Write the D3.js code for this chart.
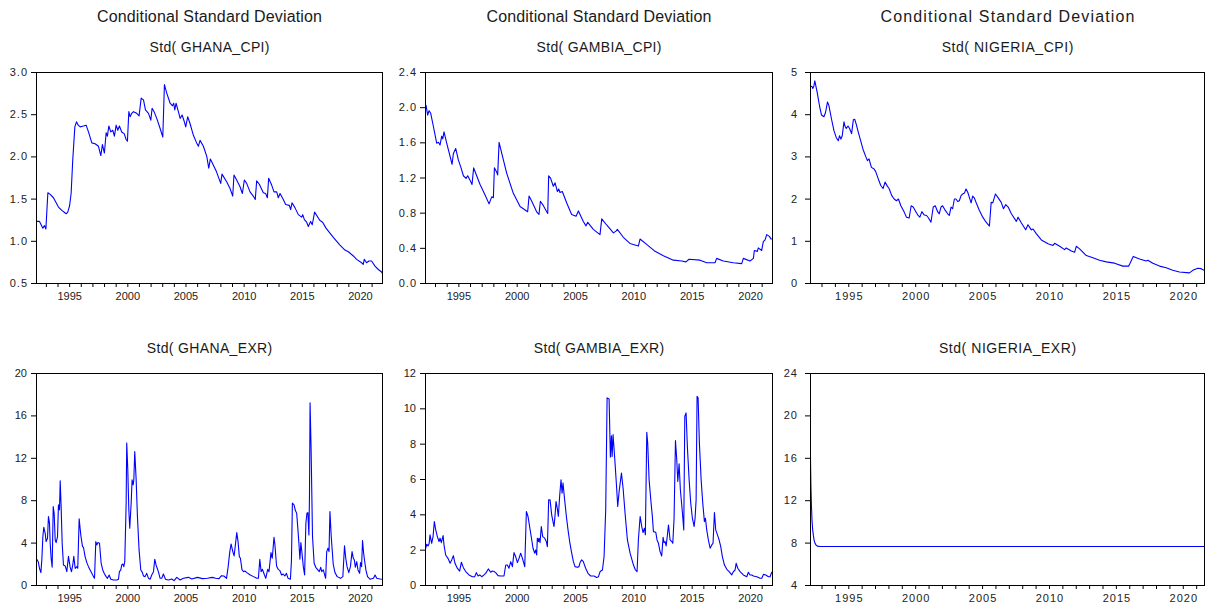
<!DOCTYPE html>
<html>
<head>
<meta charset="utf-8">
<script src="https://cdn.jsdelivr.net/npm/d3@7"></script>
<style>
  html, body { margin: 0; padding: 0; background: #fff; }
  svg { display: block; }
  .tick text { font-family: "Liberation Sans", Arial, sans-serif; font-size: 11px; fill: #222; }
  .tick line { stroke: #000; }
</style>
</head>
<body>
<svg id="chart" width="1206" height="603"></svg>
<script>
// ---------- DATA ----------
const mainTitle = "Conditional Standard Deviation";
const seriesNames = ["Std( GHANA_CPI)", "Std( GAMBIA_CPI)", "Std( NIGERIA_CPI)",
                     "Std( GHANA_EXR)", "Std( GAMBIA_EXR)", "Std( NIGERIA_EXR)"];
const yearTicks = [1993,1994,1995,1996,1997,1998,1999,2000,2001,2002,2003,2004,2005,2006,2007,
                   2008,2009,2010,2011,2012,2013,2014,2015,2016,2017,2018,2019,2020,2021];
const yearLabels = [1995, 2000, 2005, 2010, 2015, 2020];

const ticksGhanaCpi = [0.5, 1.0, 1.5, 2.0, 2.5, 3.0];
const ticksGambiaCpi = [0.0, 0.4, 0.8, 1.2, 1.6, 2.0, 2.4];
const ticksNigeriaCpi = [0, 1, 2, 3, 4, 5];
const ticksGhanaExr = [0, 4, 8, 12, 16, 20];
const ticksGambiaExr = [0, 2, 4, 6, 8, 10, 12];
const ticksNigeriaExr = [4, 8, 12, 16, 20, 24];

const ghanaCpi = [
[1992.22,1.23],[1992.45,1.23],[1992.74,1.15],[1992.88,1.18],[1993.0,1.14],[1993.17,1.57],[1993.37,1.55],[1993.65,1.51],
[1994.08,1.40],[1994.37,1.36],[1994.74,1.32],[1994.88,1.34],[1995.03,1.41],[1995.17,1.56],[1995.31,1.96],[1995.49,2.35],
[1995.63,2.41],[1995.78,2.37],[1995.95,2.35],[1996.23,2.36],[1996.46,2.37],[1996.66,2.29],[1996.95,2.16],[1997.23,2.15],
[1997.52,2.12],[1997.72,2.01],[1997.86,2.14],[1998.03,2.04],[1998.18,2.28],[1998.29,2.24],[1998.41,2.36],[1998.58,2.29],
[1998.75,2.31],[1998.89,2.24],[1999.04,2.37],[1999.18,2.31],[1999.32,2.36],[1999.52,2.29],[1999.73,2.27],[1999.9,2.20],
[2000.01,2.18],[2000.13,2.53],[2000.24,2.47],[2000.38,2.51],[2000.53,2.53],[2000.81,2.51],[2001.01,2.48],[2001.19,2.69],
[2001.39,2.67],[2001.56,2.55],[2001.82,2.51],[2002.02,2.43],[2002.13,2.57],[2002.3,2.53],[2002.53,2.45],[2002.82,2.33],
[2003.05,2.23],[2003.19,2.85],[2003.39,2.75],[2003.68,2.63],[2003.88,2.60],[2003.99,2.63],[2004.08,2.55],[2004.19,2.63],
[2004.39,2.53],[2004.54,2.45],[2004.71,2.49],[2004.88,2.42],[2005.02,2.35],[2005.19,2.47],[2005.39,2.39],[2005.68,2.25],
[2005.96,2.16],[2006.11,2.12],[2006.25,2.19],[2006.54,2.12],[2006.83,2.00],[2007.0,1.86],[2007.14,1.97],[2007.66,1.82],
[2008.03,1.68],[2008.14,1.79],[2008.54,1.70],[2008.83,1.62],[2009.06,1.53],[2009.17,1.78],[2009.4,1.72],[2009.69,1.64],
[2009.89,1.56],[2010.06,1.72],[2010.26,1.68],[2010.55,1.58],[2010.83,1.53],[2011.0,1.49],[2011.12,1.71],[2011.35,1.67],
[2011.69,1.57],[2011.89,1.56],[2012.04,1.51],[2012.15,1.74],[2012.41,1.66],[2012.61,1.58],[2012.84,1.58],[2012.98,1.51],
[2013.13,1.56],[2013.41,1.49],[2013.61,1.43],[2013.93,1.42],[2014.04,1.37],[2014.16,1.45],[2014.42,1.39],[2014.70,1.31],
[2014.99,1.28],[2015.08,1.31],[2015.22,1.25],[2015.42,1.22],[2015.56,1.17],[2015.76,1.23],[2015.9,1.19],[2016.1,1.34],
[2016.56,1.24],[2016.79,1.22],[2017.08,1.15],[2017.42,1.09],[2017.71,1.04],[2018.28,0.95],[2018.71,0.89],[2019.0,0.87],
[2019.43,0.82],[2019.71,0.78],[2020.14,0.74],[2020.28,0.72],[2020.37,0.78],[2020.57,0.74],[2020.77,0.76],[2021.0,0.76],
[2021.29,0.70],[2021.58,0.66],[2021.86,0.63],[2021.97,0.60]];

const gambiaCpi = [
[1992.14,2.01],[1992.23,2.02],[1992.37,1.91],[1992.49,1.96],[1992.63,1.93],[1992.86,1.78],[1993.14,1.59],[1993.29,1.60],
[1993.43,1.57],[1993.57,1.67],[1993.66,1.64],[1993.77,1.72],[1994.0,1.59],[1994.29,1.44],[1994.46,1.35],[1994.57,1.47],
[1994.77,1.53],[1995.0,1.40],[1995.23,1.31],[1995.43,1.22],[1995.66,1.19],[1995.8,1.22],[1996.0,1.17],[1996.17,1.12],
[1996.31,1.31],[1996.51,1.24],[1996.86,1.12],[1997.29,1.00],[1997.63,0.90],[1997.86,0.98],[1998.0,0.97],[1998.09,1.31],
[1998.29,1.26],[1998.37,1.23],[1998.49,1.60],[1998.71,1.48],[1999.14,1.25],[1999.71,1.02],[2000.29,0.87],[2000.94,0.81],
[2001.06,0.99],[2001.29,0.93],[2001.71,0.81],[2001.91,0.78],[2002.03,0.93],[2002.29,0.88],[2002.57,0.81],[2002.66,0.79],
[2002.74,1.22],[2002.91,1.19],[2003.14,1.10],[2003.29,1.14],[2003.49,1.04],[2003.6,1.07],[2003.71,1.03],[2003.91,1.04],
[2004.29,0.91],[2004.71,0.78],[2005.09,0.76],[2005.29,0.82],[2005.71,0.70],[2005.94,0.65],[2006.09,0.69],[2006.57,0.61],
[2007.14,0.55],[2007.29,0.73],[2007.71,0.66],[2008.29,0.57],[2008.51,0.59],[2008.63,0.61],[2009.14,0.52],[2009.71,0.45],
[2010.43,0.42],[2010.57,0.50],[2011.14,0.44],[2011.86,0.36],[2012.57,0.31],[2013.43,0.26],[2014.14,0.25],[2014.51,0.24],
[2014.77,0.27],[2015.71,0.26],[2016.29,0.23],[2017.0,0.23],[2017.14,0.28],[2017.71,0.25],[2018.57,0.23],[2019.29,0.22],
[2019.43,0.28],[2020.0,0.25],[2020.29,0.28],[2020.37,0.37],[2020.63,0.36],[2020.71,0.40],[2021.0,0.37],[2021.14,0.47],
[2021.29,0.49],[2021.43,0.55],[2021.66,0.53],[2021.8,0.50],[2021.97,0.50]];

const nigeriaCpi = [
[1992.16,4.67],[1992.3,4.65],[1992.35,4.61],[1992.43,4.67],[1992.5,4.79],[1992.68,4.51],[1992.85,4.20],[1993.0,3.98],
[1993.18,3.94],[1993.3,4.04],[1993.45,4.29],[1993.55,4.21],[1993.75,3.88],[1993.93,3.61],[1994.1,3.45],[1994.25,3.37],
[1994.35,3.49],[1994.45,3.41],[1994.55,3.49],[1994.68,3.82],[1994.75,3.72],[1994.85,3.66],[1994.98,3.72],[1995.1,3.66],
[1995.25,3.54],[1995.38,3.87],[1995.48,3.88],[1995.6,3.76],[1995.75,3.57],[1995.93,3.37],[1996.1,3.17],[1996.3,3.00],
[1996.43,2.90],[1996.55,2.94],[1996.73,2.74],[1996.93,2.70],[1997.05,2.64],[1997.25,2.46],[1997.43,2.31],[1997.6,2.24],
[1997.75,2.39],[1997.93,2.29],[1998.05,2.24],[1998.25,2.07],[1998.43,1.99],[1998.6,1.95],[1998.75,1.99],[1998.93,1.83],
[1999.18,1.68],[1999.35,1.56],[1999.55,1.54],[1999.7,1.83],[1999.85,1.80],[2000.05,1.69],[2000.2,1.61],[2000.35,1.56],
[2000.5,1.69],[2000.68,1.61],[2000.85,1.60],[2001.0,1.54],[2001.18,1.44],[2001.35,1.80],[2001.5,1.83],[2001.68,1.69],
[2001.8,1.64],[2001.93,1.80],[2002.05,1.83],[2002.25,1.72],[2002.43,1.64],[2002.55,1.60],[2002.68,1.80],[2002.8,1.76],
[2002.93,1.99],[2003.05,1.99],[2003.18,1.93],[2003.3,1.95],[2003.43,2.07],[2003.55,2.11],[2003.68,2.13],[2003.8,2.23],
[2003.93,2.15],[2004.05,2.03],[2004.18,1.90],[2004.3,2.06],[2004.43,2.01],[2004.6,1.87],[2004.8,1.72],[2005.05,1.56],
[2005.3,1.44],[2005.55,1.35],[2005.68,1.91],[2005.8,1.90],[2006.0,2.11],[2006.18,2.03],[2006.43,1.91],[2006.6,1.76],
[2006.77,1.86],[2006.95,1.80],[2007.19,1.64],[2007.56,1.46],[2007.69,1.56],[2007.94,1.42],[2008.26,1.26],[2008.43,1.38],
[2008.68,1.26],[2008.81,1.28],[2009.05,1.17],[2009.43,1.02],[2009.93,0.93],[2010.3,0.89],[2010.42,0.94],[2010.8,0.87],
[2011.17,0.79],[2011.29,0.83],[2011.67,0.76],[2011.92,0.73],[2012.04,0.87],[2012.29,0.81],[2012.79,0.65],[2013.28,0.60],
[2013.78,0.54],[2014.28,0.50],[2014.9,0.47],[2015.52,0.40],[2015.95,0.40],[2016.05,0.46],[2016.3,0.63],[2016.77,0.57],
[2017.26,0.52],[2017.39,0.54],[2017.76,0.47],[2018.26,0.40],[2018.76,0.36],[2019.25,0.30],[2019.75,0.26],[2020.5,0.24],
[2020.75,0.30],[2021.12,0.35],[2021.37,0.34],[2021.66,0.29]];

const ghanaExr = [
[1992.22,2.43],[1992.34,2.20],[1992.45,1.57],[1992.57,1.17],[1992.65,2.36],[1992.74,4.57],[1992.82,5.45],[1992.94,4.88],
[1993.02,4.09],[1993.14,4.41],[1993.22,6.46],[1993.31,5.83],[1993.37,3.94],[1993.45,2.52],[1993.54,1.67],[1993.63,7.40],
[1993.71,6.77],[1993.80,4.25],[1993.88,4.00],[1994.0,4.57],[1994.08,7.56],[1994.17,7.09],[1994.23,9.83],[1994.31,7.40],
[1994.40,3.94],[1994.51,1.89],[1994.66,1.80],[1994.8,1.26],[1994.94,2.70],[1995.09,1.67],[1995.2,1.26],[1995.31,1.89],
[1995.4,2.70],[1995.52,1.57],[1995.66,1.73],[1995.74,1.57],[1995.86,6.24],[1996.0,4.72],[1996.15,3.62],[1996.23,3.56],
[1996.37,2.68],[1996.52,2.11],[1996.66,1.73],[1996.8,1.42],[1996.95,1.10],[1997.09,0.79],[1997.18,0.63],[1997.29,4.09],
[1997.38,3.78],[1997.46,4.00],[1997.61,3.94],[1997.75,2.05],[1997.89,1.42],[1998.04,1.04],[1998.18,0.79],[1998.29,0.63],
[1998.44,0.94],[1998.58,0.54],[1998.81,0.47],[1999.1,0.47],[1999.24,0.54],[1999.32,1.26],[1999.44,1.42],[1999.52,1.89],
[1999.61,1.98],[1999.7,1.73],[1999.78,2.20],[1999.9,7.72],[1999.95,13.39],[2000.04,10.87],[2000.13,7.09],[2000.21,5.35],
[2000.33,7.72],[2000.41,9.92],[2000.5,9.45],[2000.56,9.92],[2000.64,12.6],[2000.76,9.92],[2000.87,6.46],[2001.01,3.31],
[2001.16,1.42],[2001.3,1.17],[2001.39,0.85],[2001.53,0.79],[2001.67,1.10],[2001.82,0.63],[2001.96,0.54],[2002.1,0.94],
[2002.25,1.26],[2002.36,2.43],[2002.47,1.89],[2002.67,1.26],[2002.82,0.63],[2002.96,0.63],[2003.1,1.04],[2003.28,0.54],
[2003.53,0.47],[2003.82,0.57],[2004.02,0.41],[2004.25,0.72],[2004.54,0.47],[2004.82,0.63],[2005.25,0.72],[2005.54,0.57],
[2006.03,0.72],[2006.46,0.60],[2006.88,0.63],[2007.31,0.72],[2007.59,0.63],[2007.88,0.60],[2008.1,0.88],[2008.3,0.85],
[2008.53,0.63],[2008.67,1.73],[2008.81,3.15],[2008.92,3.87],[2009.07,3.15],[2009.18,2.74],[2009.29,3.78],[2009.41,4.94],
[2009.52,4.09],[2009.63,2.68],[2009.72,2.52],[2009.86,1.42],[2010.0,1.26],[2010.11,1.32],[2010.28,1.17],[2010.57,0.94],
[2010.85,0.79],[2011.13,0.63],[2011.27,0.63],[2011.39,2.43],[2011.5,1.26],[2011.61,1.48],[2011.76,1.04],[2011.9,0.63],
[2012.07,1.48],[2012.18,1.26],[2012.35,3.06],[2012.46,2.52],[2012.61,4.50],[2012.69,3.78],[2012.83,1.80],[2012.97,1.48],
[2013.12,1.35],[2013.26,0.94],[2013.4,1.04],[2013.54,0.85],[2013.68,1.10],[2013.82,0.63],[2014.02,0.54],[2014.11,2.30],
[2014.19,7.72],[2014.33,7.56],[2014.45,7.02],[2014.56,6.77],[2014.67,5.20],[2014.76,3.78],[2014.84,2.43],[2014.92,4.00],
[2015.01,3.06],[2015.13,1.73],[2015.24,0.94],[2015.35,5.83],[2015.44,6.77],[2015.52,6.83],[2015.61,4.72],[2015.66,8.35],
[2015.71,17.2],[2015.8,12.76],[2015.92,4.57],[2016.06,2.05],[2016.2,1.67],[2016.34,1.48],[2016.5,1.26],[2016.63,1.67],
[2016.71,1.26],[2016.85,1.42],[2016.97,0.94],[2017.05,0.63],[2017.14,3.15],[2017.25,3.46],[2017.34,3.15],[2017.42,6.93],
[2017.53,4.57],[2017.7,1.98],[2017.85,1.17],[2018.04,0.79],[2018.33,0.63],[2018.53,0.79],[2018.67,3.69],[2018.78,2.52],
[2018.89,1.73],[2019.04,1.17],[2019.18,1.73],[2019.32,3.15],[2019.43,2.52],[2019.52,2.36],[2019.6,1.67],[2019.72,2.20],
[2019.83,1.42],[2019.97,1.10],[2020.05,2.11],[2020.14,1.73],[2020.22,4.19],[2020.31,3.06],[2020.39,2.36],[2020.51,1.42],
[2020.65,0.79],[2020.88,0.54],[2021.16,0.63],[2021.3,0.94],[2021.44,0.63],[2021.73,0.57],[2021.98,0.54]];

const gambiaExr = [
[1992.2,2.08],[1992.29,2.31],[1992.4,2.21],[1992.49,2.33],[1992.57,2.84],[1992.71,2.36],[1992.83,2.74],[1992.94,3.59],
[1993.06,3.12],[1993.2,2.74],[1993.34,2.46],[1993.43,2.65],[1993.54,2.40],[1993.69,2.80],[1993.77,2.27],[1993.91,1.70],
[1994.11,1.51],[1994.29,1.23],[1994.43,1.42],[1994.57,1.66],[1994.71,1.23],[1994.91,0.95],[1995.11,0.79],[1995.26,1.29],
[1995.43,0.98],[1995.63,0.76],[1995.91,0.57],[1996.2,0.47],[1996.4,0.47],[1996.54,0.70],[1996.69,0.51],[1996.83,0.57],
[1997.0,0.47],[1997.2,0.57],[1997.34,0.66],[1997.57,0.91],[1997.77,0.72],[1997.91,0.79],[1998.06,0.76],[1998.2,0.70],
[1998.4,0.53],[1998.63,0.51],[1998.91,0.51],[1999.06,1.13],[1999.2,1.13],[1999.34,0.95],[1999.49,1.32],[1999.63,1.04],
[1999.77,1.83],[1999.91,1.61],[2000.06,1.27],[2000.2,1.51],[2000.34,1.80],[2000.49,1.51],[2000.69,1.04],[2000.83,4.16],
[2000.97,3.88],[2001.2,2.93],[2001.4,2.08],[2001.54,1.80],[2001.63,1.98],[2001.71,1.70],[2001.77,2.65],[2001.86,2.46],
[2001.91,2.65],[2002.0,2.40],[2002.11,3.31],[2002.23,2.74],[2002.4,2.65],[2002.54,2.46],[2002.63,2.17],[2002.74,4.82],
[2002.86,4.82],[2003.0,3.97],[2003.11,3.59],[2003.2,3.31],[2003.29,3.97],[2003.37,4.73],[2003.49,4.29],[2003.57,3.88],
[2003.69,5.10],[2003.8,5.95],[2003.89,5.20],[2003.97,5.77],[2004.11,4.82],[2004.26,3.88],[2004.4,3.12],[2004.54,2.46],
[2004.69,1.89],[2004.86,1.32],[2005.0,1.04],[2005.2,1.00],[2005.34,1.04],[2005.43,1.27],[2005.57,1.42],[2005.71,1.32],
[2005.91,0.95],[2006.11,0.66],[2006.34,0.51],[2006.63,0.51],[2006.85,0.43],[2007.01,0.47],[2007.15,0.76],[2007.35,0.85],
[2007.49,1.61],[2007.63,4.25],[2007.75,10.59],[2007.92,10.53],[2008.03,7.24],[2008.12,8.45],[2008.18,7.28],[2008.26,8.51],
[2008.43,6.90],[2008.55,5.67],[2008.66,4.44],[2008.78,5.29],[2008.98,6.33],[2009.12,5.48],[2009.29,4.06],[2009.49,2.55],
[2009.72,1.80],[2010.01,1.13],[2010.15,0.89],[2010.32,0.76],[2010.43,2.55],[2010.58,3.88],[2010.72,3.31],[2010.83,2.97],
[2010.95,3.21],[2011.03,2.84],[2011.15,8.64],[2011.23,8.03],[2011.35,5.95],[2011.52,4.63],[2011.63,3.88],[2011.72,3.02],
[2011.92,2.99],[2012.03,2.55],[2012.15,2.36],[2012.29,1.89],[2012.43,1.64],[2012.55,2.70],[2012.63,2.40],[2012.72,2.46],
[2012.81,2.21],[2012.92,2.84],[2013.01,3.40],[2013.15,2.55],[2013.29,2.46],[2013.38,2.36],[2013.49,3.78],[2013.61,8.17],
[2013.72,7.09],[2013.81,5.86],[2013.92,6.86],[2014.03,5.39],[2014.21,4.06],[2014.32,3.12],[2014.41,9.55],[2014.52,9.74],
[2014.63,7.84],[2014.78,5.95],[2014.92,4.63],[2015.06,3.78],[2015.21,3.31],[2015.29,3.78],[2015.38,4.82],[2015.46,10.68],
[2015.55,10.59],[2015.66,8.03],[2015.81,5.95],[2015.95,4.63],[2016.09,3.59],[2016.18,3.78],[2016.29,3.12],[2016.43,2.55],
[2016.58,2.08],[2016.72,2.27],[2016.83,2.36],[2016.95,4.10],[2017.06,3.12],[2017.21,2.84],[2017.35,2.55],[2017.49,2.17],
[2017.63,1.61],[2017.81,1.13],[2018.01,0.89],[2018.21,0.76],[2018.43,0.57],[2018.58,0.76],[2018.72,0.85],[2018.81,1.23],
[2018.95,0.95],[2019.15,0.76],[2019.43,0.57],[2019.72,0.47],[2019.86,0.72],[2020.0,0.57],[2020.15,0.57],[2020.29,0.51],
[2020.58,0.47],[2020.86,0.38],[2021.01,0.38],[2021.15,0.60],[2021.35,0.57],[2021.58,0.47],[2021.72,0.47],[2021.86,0.72],
[2021.97,0.70]];

const nigeriaExr = [
[1992.14,20.1],[1992.18,15.6],[1992.21,13.3],[1992.25,11.4],[1992.29,10.1],[1992.34,9.2],[1992.39,8.7],[1992.45,8.2],
[1992.51,7.95],[1992.6,7.75],[1992.69,7.67],[1992.89,7.63],[2021.66,7.63]];

// ---------- LAYOUT ----------
const layout = [
  { data: ghanaCpi,   name: 0, ticks: ticksGhanaCpi,   fmt: ".1f", x0: 36,  x1: 383,  y0: 72,  y1: 283, xd: [1992.15, 2021.98], pad: 3, ls: 1,   xls: 0, tls: 0.15, sls: 0.35, title: true },
  { data: gambiaCpi,  name: 1, ticks: ticksGambiaCpi,  fmt: ".1f", x0: 425, x1: 773,  y0: 72,  y1: 283, xd: [1992.14, 2021.97], pad: 3, ls: 1,   xls: 0, tls: 0.15, sls: 0.35, title: true },
  { data: nigeriaCpi, name: 2, ticks: ticksNigeriaCpi, fmt: "d",   x0: 810, x1: 1205, y0: 72,  y1: 283, xd: [1992.14, 2021.66], pad: 7, ls: 1,   xls: 1, tls: 1.15, sls: 0.55, title: true },
  { data: ghanaExr,   name: 3, ticks: ticksGhanaExr,   fmt: "d",   x0: 36,  x1: 383,  y0: 373, y1: 585, xd: [1992.15, 2021.98], pad: 4, ls: 0,   xls: 0, tls: 0.15, sls: 0.35, title: false },
  { data: gambiaExr,  name: 4, ticks: ticksGambiaExr,  fmt: "d",   x0: 425, x1: 773,  y0: 373, y1: 585, xd: [1992.14, 2021.97], pad: 4, ls: 0,   xls: 0, tls: 0.15, sls: 0.35, title: false },
  { data: nigeriaExr, name: 5, ticks: ticksNigeriaExr, fmt: "d",   x0: 810, x1: 1205, y0: 373, y1: 585, xd: [1992.14, 2021.66], pad: 7, ls: 1,   xls: 1, tls: 1.15, sls: 0.55, title: false }
];

const svg = d3.select("#chart");
const defs = svg.append("defs");
const font = "'Liberation Sans', Arial, sans-serif";

layout.forEach((p, i) => {
  const x = d3.scaleLinear().domain(p.xd).range([p.x0, p.x1]);
  const yExt = d3.extent(p.ticks);
  const y = d3.scaleLinear().domain(yExt).range([p.y1, p.y0]);
  const cx = (p.x0 + p.x1) / 2;

  if (p.title) {
    svg.append("text").attr("x", cx + p.tls / 2).attr("y", p.y0 - 50)
      .attr("text-anchor", "middle").attr("font-family", font)
      .attr("font-size", 16).attr("letter-spacing", p.tls).attr("fill", "#1a1a1a")
      .text(mainTitle);
  }
  svg.append("text").attr("x", cx + p.sls / 2).attr("y", p.y0 - 20)
    .attr("text-anchor", "middle").attr("font-family", font)
    .attr("font-size", 14).attr("letter-spacing", p.sls).attr("fill", "#1a1a1a")
    .text(seriesNames[p.name]);

  // y axis
  const yAxis = d3.axisLeft(y).tickValues(p.ticks).tickFormat(d3.format(p.fmt))
    .tickSizeInner(5).tickSizeOuter(0).tickPadding(p.pad);
  const gy = svg.append("g").attr("transform", `translate(${p.x0},0)`).call(yAxis);
  gy.select(".domain").remove();
  gy.selectAll(".tick text").attr("letter-spacing", p.ls);

  // x axis
  const xAxis = d3.axisBottom(x)
    .tickValues(yearTicks.filter(t => t >= p.xd[0] && t <= p.xd[1]))
    .tickFormat(d => yearLabels.includes(d) ? String(d) : "")
    .tickSizeInner(4).tickSizeOuter(0).tickPadding(5);
  const gx = svg.append("g").attr("transform", `translate(0,${p.y1})`).call(xAxis);
  gx.select(".domain").remove();
  gx.selectAll(".tick text").attr("letter-spacing", p.xls).attr("dx", p.xls / 2);

  // clip
  const cid = "clip" + i;
  defs.append("clipPath").attr("id", cid).append("rect")
    .attr("x", p.x0).attr("y", p.y0).attr("width", p.x1 - p.x0).attr("height", p.y1 - p.y0);

  const line = d3.line().x(d => x(d[0])).y(d => y(d[1]));
  svg.append("path").datum(p.data)
    .attr("clip-path", `url(#${cid})`)
    .attr("fill", "none").attr("stroke", "#0000ff").attr("stroke-width", 1.1)
    .attr("stroke-linejoin", "round")
    .attr("d", line);

  // frame
  svg.append("rect").attr("x", p.x0 + 0.5).attr("y", p.y0 + 0.5)
    .attr("width", p.x1 - p.x0 - 1).attr("height", p.y1 - p.y0)
    .attr("fill", "none").attr("stroke", "#000").attr("stroke-width", 1);
});
</script>
</body>
</html>
